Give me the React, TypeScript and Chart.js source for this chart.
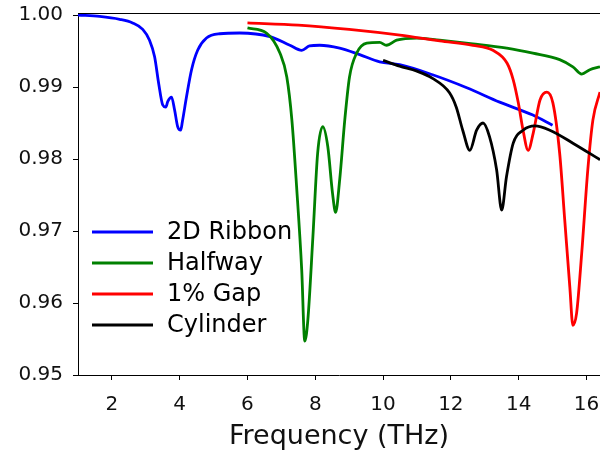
import React, { useEffect, useRef } from "react";
import { Chart, registerables } from "chart.js";

Chart.register(...registerables);

// Transmission spectra for the four geometries
const ribbonFreq = [1.0, 1.64, 2.23, 2.61, 2.91, 3.11, 3.26, 3.38, 3.5, 3.59, 3.65, 3.76, 3.85, 3.94, 4.03, 4.08, 4.2, 4.35, 4.53, 4.79, 5.18, 5.77, 6.66, 7.25, 7.6, 7.83, 8.13, 8.72, 9.31, 9.9, 10.49, 11.46, 12.47, 13.44, 14.42, 15.0];
const ribbonVal = [1.0, 0.9998, 0.9994, 0.9989, 0.998, 0.9965, 0.9942, 0.9905, 0.9875, 0.9872, 0.988, 0.9886, 0.9868, 0.9845, 0.984, 0.9852, 0.9886, 0.9924, 0.9951, 0.9968, 0.9974, 0.9975, 0.997, 0.9958, 0.9951, 0.9957, 0.9958, 0.9954, 0.9945, 0.9935, 0.9931, 0.9917, 0.9899, 0.9879, 0.9861, 0.9847];

const halfwayFreq = [6.0, 6.56, 6.96, 7.16, 7.31, 7.45, 7.6, 7.69, 7.78, 7.93, 8.07, 8.22, 8.37, 8.51, 8.6, 8.72, 8.87, 9.01, 9.22, 9.52, 9.9, 10.1, 10.4, 11.0, 11.67, 12.65, 13.65, 14.42, 15.21, 15.6, 15.86, 16.1, 16.4];
const halfwayVal = [0.9982, 0.9975, 0.9947, 0.9914, 0.9854, 0.9761, 0.9646, 0.9547, 0.9576, 0.9692, 0.9808, 0.9845, 0.9817, 0.9752, 0.9726, 0.9771, 0.9854, 0.9914, 0.9947, 0.9961, 0.9962, 0.9958, 0.9965, 0.9968, 0.9965, 0.996, 0.9954, 0.9947, 0.9938, 0.9928, 0.9918, 0.9924, 0.9928];

const gapFreq = [6.0, 7.5, 9.0, 10.5, 11.67, 12.65, 13.24, 13.66, 13.84, 13.99, 14.13, 14.28, 14.43, 14.63, 14.83, 15.01, 15.21, 15.36, 15.51, 15.6, 15.71, 15.86, 16.04, 16.19, 16.4];
const gapVal = [0.9989, 0.9986, 0.998, 0.9972, 0.9964, 0.9958, 0.9951, 0.9933, 0.991, 0.9878, 0.984, 0.9812, 0.9836, 0.9882, 0.9893, 0.9878, 0.9808, 0.9715, 0.9622, 0.9569, 0.9586, 0.9669, 0.9785, 0.9854, 0.9893];

const cylinderFreq = [10.0, 10.49, 11.0, 11.46, 11.96, 12.16, 12.35, 12.56, 12.76, 12.95, 13.14, 13.35, 13.5, 13.64, 13.84, 14.13, 14.48, 14.92, 15.6, 16.4];
const cylinderVal = [0.9937, 0.9929, 0.9922, 0.9912, 0.9892, 0.9872, 0.984, 0.9812, 0.984, 0.985, 0.9831, 0.9785, 0.9729, 0.9775, 0.9822, 0.984, 0.9846, 0.984, 0.9822, 0.9799];

const seriesLabels = ["2D Ribbon", "Halfway", "1% Gap", "Cylinder"];
const seriesColors = ["#0000ff", "#008000", "#ff0000", "#000000"];

const xTicks = [2, 4, 6, 8, 10, 12, 14, 16];
const yTicks = [0.95, 0.96, 0.97, 0.98, 0.99, 1.0];

const FONT = "'DejaVu Sans', 'Liberation Sans', sans-serif";

const toPoints = (xs: number[], ys: number[]) => xs.map((x, i) => ({ x, y: ys[i] }));

// Top spine plus an in-plot legend in the lower-left corner
const frameAndLegend = {
  id: "frameAndLegend",
  afterDraw(chart: any) {
    const { ctx, chartArea } = chart;
    ctx.save();
    ctx.strokeStyle = "#000";
    ctx.lineWidth = 1;
    ctx.beginPath();
    ctx.moveTo(chartArea.left, chartArea.top + 0.5);
    ctx.lineTo(chartArea.right, chartArea.top + 0.5);
    ctx.stroke();

    ctx.font = `24px ${FONT}`;
    ctx.textBaseline = "middle";
    ctx.textAlign = "left";
    chart.data.datasets.forEach((ds: any, i: number) => {
      const y = 232 + i * 31;
      ctx.strokeStyle = ds.borderColor;
      ctx.lineWidth = 3;
      ctx.beginPath();
      ctx.moveTo(92, y);
      ctx.lineTo(153, y);
      ctx.stroke();
      ctx.fillStyle = "#000";
      ctx.fillText(ds.label, 167, y + 1);
    });
    ctx.restore();
  },
};

export default function App() {
  const canvasRef = useRef<HTMLCanvasElement | null>(null);

  useEffect(() => {
    document.body.style.margin = "0";
    const canvas = canvasRef.current;
    if (!canvas) return;

    const series = [
      toPoints(ribbonFreq, ribbonVal),
      toPoints(halfwayFreq, halfwayVal),
      toPoints(gapFreq, gapVal),
      toPoints(cylinderFreq, cylinderVal),
    ];

    const chart = new Chart(canvas, {
      type: "line",
      data: {
        datasets: series.map((data, i) => ({
          label: seriesLabels[i],
          data,
          borderColor: seriesColors[i],
          backgroundColor: seriesColors[i],
          borderWidth: 2.8,
          pointRadius: 0,
          fill: false,
          cubicInterpolationMode: "monotone" as const,
          order: series.length - i,
        })),
      },
      options: {
        animation: false,
        responsive: false,
        devicePixelRatio: 1,
        layout: { padding: { top: 13, right: 0, bottom: 0, left: 0 } },
        plugins: {
          legend: { display: false },
          tooltip: { enabled: false },
        },
        scales: {
          x: {
            type: "linear",
            min: 1,
            max: 16.4,
            afterBuildTicks: (scale: any) => {
              scale.ticks = xTicks.map((v) => ({ value: v }));
            },
            afterFit: (scale: any) => {
              scale.height = 82;
              scale.paddingLeft = 0;
              scale.paddingRight = 0;
            },
            ticks: {
              font: { family: FONT, size: 20 },
              color: "#111",
              padding: 13,
              maxRotation: 0,
              callback: (v: any) => String(v),
            },
            grid: {
              drawOnChartArea: false,
              drawTicks: true,
              tickLength: 5,
              color: "#000",
              lineWidth: 1,
            },
            border: { display: true, color: "#000", width: 1 },
            title: {
              display: true,
              text: "Frequency (THz)",
              font: { family: FONT, size: 27 },
              color: "#111",
              padding: { top: 0, bottom: 4 },
            },
          },
          y: {
            type: "linear",
            min: 0.95,
            max: 1.00028,
            afterBuildTicks: (scale: any) => {
              scale.ticks = yTicks.map((v) => ({ value: v }));
            },
            afterFit: (scale: any) => {
              scale.width = 78;
              scale.paddingTop = 0;
              scale.paddingBottom = 0;
            },
            ticks: {
              font: { family: FONT, size: 20 },
              color: "#111",
              padding: 10,
              callback: (v: any) => Number(v).toFixed(2),
            },
            grid: {
              drawOnChartArea: false,
              drawTicks: true,
              tickLength: 5,
              color: "#000",
              lineWidth: 1,
            },
            border: { display: true, color: "#000", width: 1 },
          },
        },
      },
      plugins: [frameAndLegend],
    });

    return () => chart.destroy();
  }, []);

  return (
    <div style={{ width: 600, height: 457, background: "#fff" }}>
      <canvas ref={canvasRef} width={600} height={457} />
    </div>
  );
}
